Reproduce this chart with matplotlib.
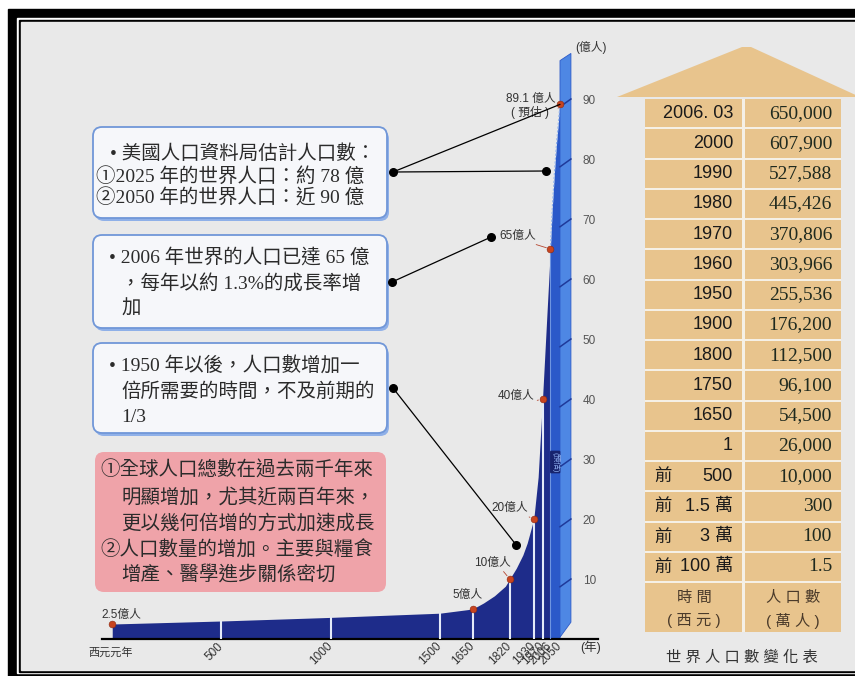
import matplotlib
matplotlib.use("Agg")
import matplotlib.pyplot as plt
from matplotlib.patches import Rectangle, FancyBboxPatch, Polygon, ConnectionPatch

plt.rcParams['font.family'] = ['Liberation Sans', 'Noto Sans CJK TC', 'DejaVu Sans']

W, H = 855, 676

# 世界人口 (億人)
years = [1, 500, 1000, 1500, 1650, 1700, 1750, 1800, 1820, 1850, 1880, 1900, 1930, 1950, 1970, 1990, 2006]
pop = [2.5, 3.0, 3.6, 4.3, 5.0, 6.0, 7.2, 8.8, 10.0, 11.8, 14.0, 16.0, 20.0, 27.0, 40.0, 54.0, 65.0]
fc_years = [2006, 2015, 2025, 2035, 2050]
fc_pop = [65.0, 72.0, 78.0, 83.0, 89.1]

mark_years = [1, 1650, 1820, 1930, 1970, 2006, 2050]
mark_pop = [2.5, 5.0, 10.0, 20.0, 40.0, 65.0, 89.1]

grid_years = [500, 1000, 1500, 1650, 1820, 1930, 1970]
tick_years = [500, 1000, 1500, 1650, 1820, 1930, 1970, 2006, 2050]
y_ticks = [10, 20, 30, 40, 50, 60, 70, 80, 90]

# 世界人口數變化表
table_years = ["2006. 03", "2000", "1990", "1980", "1970", "1960", "1950", "1900",
               "1800", "1750", "1650", "1", "500", "1.5 萬", "3 萬", "100 萬"]
table_bc = [False] * 12 + [True] * 4
table_pop = ["650,000", "607,900", "527,588", "445,426", "370,806", "303,966",
             "255,536", "176,200", "112,500", "96,100", "54,500", "26,000",
             "10,000", "300", "100", "1.5"]

box1 = ["• 美國人口資料局估計人口數：", "①2025 年的世界人口：約 78 億", "②2050 年的世界人口：近 90 億"]
box2 = ["• 2006 年世界的人口已達 65 億", "，每年以約 1.3%的成長率增", "加"]
box3 = ["• 1950 年以後，人口數增加一", "倍所需要的時間，不及前期的", "1/3"]
box4 = ["①全球人口總數在過去兩千年來", "明顯增加，尤其近兩百年來，", "更以幾何倍增的方式加速成長",
        "②人口數量的增加。主要與糧食", "增產、醫學進步關係密切"]

serif_cjk = ['Liberation Serif', 'Noto Sans CJK TC']
sans_cjk = ['Liberation Sans', 'Noto Sans CJK TC']

navy = '#1e2c8a'
mid_blue = '#2b59c9'
pillar_blue = '#4e87e4'
tan = '#e8c48d'
red = '#c8441f'
txt = '#2b2b2b'

fig = plt.figure(figsize=(W / 100, H / 100), dpi=100, facecolor='white')

# background layer in pixel units
bg = fig.add_axes([0, 0, 1, 1], zorder=0)
bg.set_xlim(0, W)
bg.set_ylim(H, 0)
bg.axis('off')

bg.add_patch(Rectangle((8, 9), W, H, color='black'))
bg.add_patch(Rectangle((17, 18), W, 673 - 18, color='white'))
bg.add_patch(Rectangle((19, 20), W, 672 - 20, color='black'))
bg.add_patch(Rectangle((21, 22), W, 670 - 22, color='#e9e9e9'))


def rbox(x0, y0, x1, y1, face, edge='none', shadow=None):
    style = 'round,pad=0,rounding_size=9'
    if shadow:
        bg.add_patch(FancyBboxPatch((x0 + 2, y0 + 3), x1 - x0, y1 - y0, boxstyle=style,
                                    fc=shadow, ec='none'))
    bg.add_patch(FancyBboxPatch((x0, y0), x1 - x0, y1 - y0, boxstyle=style,
                                fc=face, ec=edge, lw=1.3))


def lines(x_first, x_rest, ys, texts, size=14):
    for j, (yy, s) in enumerate(zip(ys, texts)):
        x = x_first if j == 0 else x_rest[j - 1]
        bg.text(x, yy, s, ha='left', va='center', fontsize=size, color=txt, family=serif_cjk)


rbox(93, 127, 387, 218, '#f6f7fa', '#7197d8', '#8fb0e8')
rbox(93, 235, 387, 328, '#f6f7fa', '#7197d8', '#8fb0e8')
rbox(93, 343, 387, 433, '#f6f7fa', '#7197d8', '#8fb0e8')
rbox(95, 452, 386, 592, '#efa3a9')

lines(110, [96, 96], [154, 176, 198], box1)
lines(109, [121, 121], [257, 283, 309], box2)
lines(109, [121, 121], [365, 392, 417], box3)
lines(100, [121, 121, 100, 121], [470, 497, 523, 550, 575], box4)

# pointer dots on the boxes
box_pts = [(393, 172), (392, 282), (393, 388)]
bg.scatter([p[0] for p in box_pts], [p[1] for p in box_pts], s=30, color='black', zorder=5)

# table with roof
bg.add_patch(Polygon([(617, 97), (742, 47), (751, 47), (860, 97)], closed=True, fc=tan, ec='none'))
row_top, row_h = 99, 30.25
bg.add_patch(Rectangle((645, row_top), 196, 632 - row_top, fc='#f5f0e6', ec='none'))
for i, (yr, bc, p) in enumerate(zip(table_years, table_bc, table_pop)):
    y0 = row_top + i * row_h
    bg.add_patch(Rectangle((645, y0), 97, row_h - 2, fc=tan, ec='none'))
    bg.add_patch(Rectangle((745, y0), 96, row_h - 2, fc=tan, ec='none'))
    yc = y0 + (row_h - 2) / 2
    if bc:
        bg.text(654, yc, "前", ha='left', va='center', fontsize=12.5, color='#1a1a1a', family=sans_cjk)
    bg.text(733, yc, yr, ha='right', va='center', fontsize=13, color='#1a1a1a', family=sans_cjk)
    bg.text(832, yc, p, ha='right', va='center', fontsize=14, color='#1f2a1f', family=serif_cjk)

head_top = row_top + len(table_years) * row_h
bg.add_patch(Rectangle((645, head_top), 97, 632 - head_top, fc=tan, ec='none'))
bg.add_patch(Rectangle((745, head_top), 96, 632 - head_top, fc=tan, ec='none'))
for cx, top, bottom in [(694, "時 間", "( 西 元 )"), (793, "人 口 數", "( 萬 人 )")]:
    bg.text(cx, 598, top, ha='center', va='center', fontsize=11, color='#4a3a2a', family=sans_cjk)
    bg.text(cx, 621, bottom, ha='center', va='center', fontsize=11, color='#4a3a2a', family=sans_cjk)
bg.text(742, 658, "世 界 人 口 數 變 化 表", ha='center', va='center', fontsize=11,
        color='#333333', family=sans_cjk)

# population chart
ax = fig.add_axes([102 / W, 1 - 639 / H, (598 - 102) / W, 600 / H], zorder=1)
ax.patch.set_alpha(0)
ax.set_xlim(-45.8, 2223.9)
ax.set_ylim(0, 100)

ax.fill_between(years, pop, color=navy, lw=0, zorder=2)
ax.fill_between(fc_years, fc_pop, color=mid_blue, lw=0, zorder=2)
ax.plot(fc_years, fc_pop, color='#8fb2ee', lw=0.8, ls=(0, (2, 1.5)), zorder=3)

# 3D side of the scale
ax.add_patch(Polygon([(2050, 0.3), (2100, 2.8), (2100, 97.6), (2050, 96.4)], closed=True,
                     fc=pillar_blue, ec='#2d5ac8', lw=0.6, zorder=2))
for v in y_ticks:
    ax.plot([2050, 2100], [v - 1.3, v], color='#1f3a9a', lw=1.1, zorder=3)

for yr in grid_years:
    ax.vlines(yr, 0, pop[years.index(yr)], color='#e4eaf8', lw=1.5, zorder=3)
ax.vlines(2006, 0, 65.0, color='#6f95e0', lw=0.8, zorder=3)

ax.text(2028, 29.5, "(預估)", rotation=-90, ha='center', va='center', fontsize=5.5,
        color='#8fb0f0', family=sans_cjk, zorder=4,
        bbox=dict(boxstyle='round,pad=0.15', fc='#17246e', ec='none'))

ax.scatter(mark_years, mark_pop, s=24, color=red, edgecolor='#8a2a12', lw=0.4, zorder=5, clip_on=False)

lab_kw = dict(fontsize=8.5, color='#333333', family=sans_cjk, ha='center', va='center', zorder=6)
lead = dict(arrowstyle='-', color='#b5452f', lw=0.6, shrinkA=0, shrinkB=3)
ax.text(41, 4.0, "2.5億人", **lab_kw)
ax.text(1629, 7.3, "5億人", **lab_kw)
ax.annotate("10億人", xy=(1820, 10.0), xytext=(1739, 12.7),
            arrowprops=dict(relpos=(0.75, 0), **lead), **lab_kw)
ax.annotate("20億人", xy=(1930, 20.0), xytext=(1821, 21.8),
            arrowprops=dict(relpos=(0.85, 0), **lead), **lab_kw)
ax.annotate("40億人", xy=(1970, 40.0), xytext=(1849, 40.5),
            arrowprops=dict(relpos=(0.9, 0), **lead), **lab_kw)
ax.annotate("65億人", xy=(2006, 65.0), xytext=(1858, 67.2),
            arrowprops=dict(relpos=(0.75, 0), **lead), **lab_kw)
ax.annotate("89.1 億人\n( 預估 )", xy=(2050, 89.1), xytext=(1915, 88.8),
            arrowprops=dict(relpos=(1, 0.2), **lead), linespacing=1.1, **lab_kw)

# pointers from the text boxes
targets = [(0, (2050, 89.1)), (0, (1985, 78.0)), (1, (1735, 67.0)), (2, (1849, 15.7))]
for bi, pt in targets:
    fig.add_artist(ConnectionPatch(xyA=box_pts[bi], coordsA=bg.transData, xyB=pt,
                                   coordsB=ax.transData, color='black', lw=0.9, zorder=7))
dots = [pt for _, pt in targets[1:]]
ax.scatter([d[0] for d in dots], [d[1] for d in dots], s=30, color='black', zorder=8, clip_on=False)

for side in ['left', 'right', 'top']:
    ax.spines[side].set_visible(False)
ax.spines['bottom'].set_linewidth(1.6)

ax.set_xticks(tick_years)
ax.set_xticklabels([str(t) for t in tick_years], rotation=45, ha='right', va='center',
                   rotation_mode='anchor', fontsize=8.5, color='#333333')
ax.tick_params(axis='x', length=0, pad=4)
ax.set_yticks(y_ticks)
ax.tick_params(axis='y', left=False, labelleft=False, right=False, labelright=True,
               length=0, pad=-11, labelsize=8.5, labelcolor='#555555')

ax.text(-5, -0.022, "西元元年", transform=ax.get_xaxis_transform(), ha='center', va='center',
        fontsize=8, color='#333333', family=sans_cjk)
ax.text(2190, -0.014, "(年)", transform=ax.get_xaxis_transform(), ha='center', va='center',
        fontsize=9, color='#333333', family=sans_cjk)
ax.text(2190, 98.5, "(億人)", ha='center', va='center', fontsize=8.5, color='#333333',
        family=sans_cjk)

fig.savefig("out.png", dpi=100, facecolor='white')
